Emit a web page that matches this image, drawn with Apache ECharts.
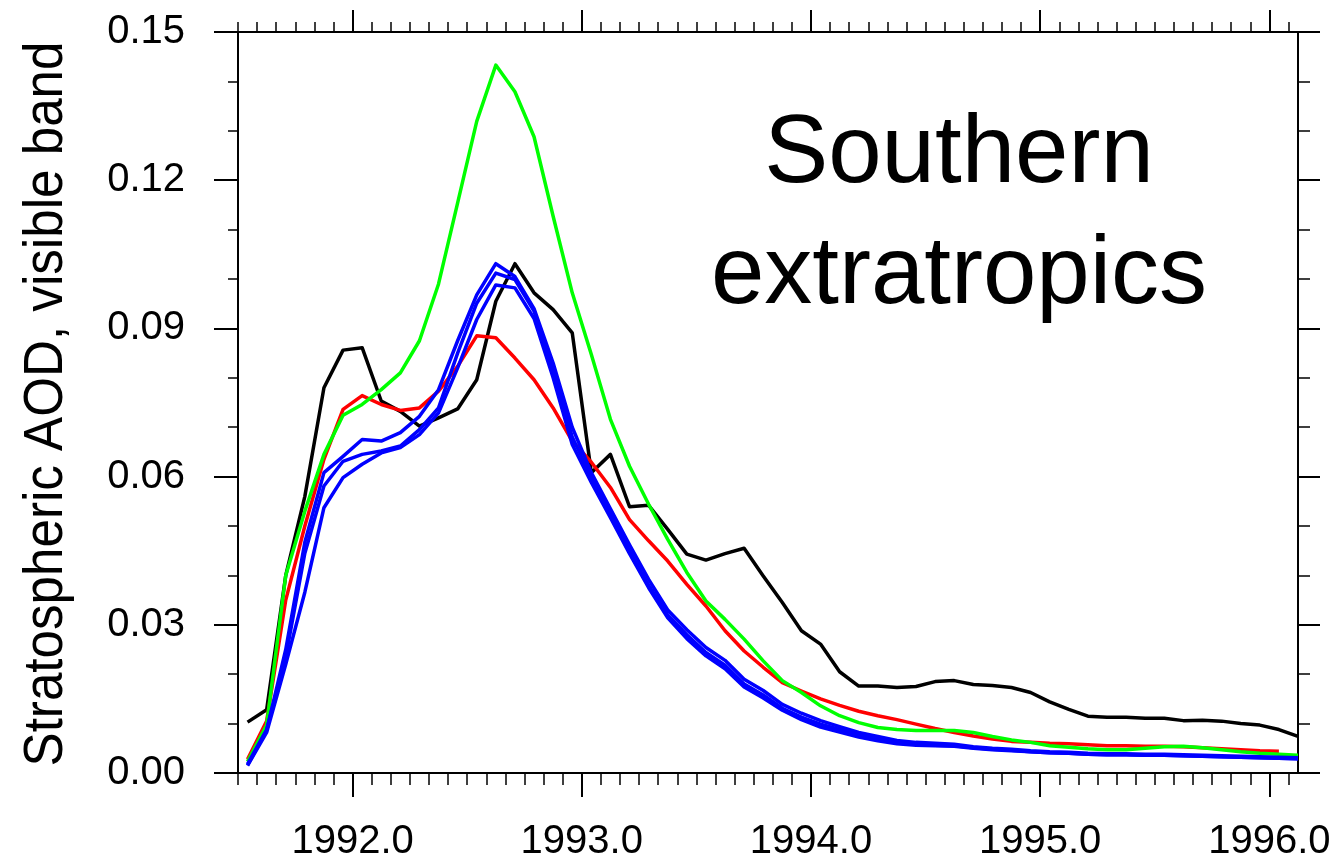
<!DOCTYPE html>
<html>
<head>
<meta charset="utf-8">
<title>Stratospheric AOD – Southern extratropics</title>
<script src="https://cdn.jsdelivr.net/npm/echarts@6/dist/echarts.min.js"></script>
<style>
  html, body { margin: 0; padding: 0; background: #ffffff; }
  #chart { width: 1335px; height: 862px; }
</style>
</head>
<body>
<div id="chart"></div>
<script>
// Monthly means, July 1991 onwards (first value = July 1991)
const firstYear = 1991;
const firstMonth = 7;

// Observations (black)
const obsAOD = [
  0.0103, 0.0128, 0.0400, 0.0560, 0.0780, 0.0856, 0.0861, 0.0753, 0.0732, 0.0702,
  0.0719, 0.0737, 0.0796, 0.0955, 0.1031, 0.0972, 0.0938, 0.0891, 0.0608, 0.0645,
  0.0539, 0.0542, 0.0493, 0.0443, 0.0431, 0.0444, 0.0455, 0.0399, 0.0345, 0.0288,
  0.0261, 0.0205, 0.0176, 0.0176, 0.0173, 0.0175, 0.0185, 0.0187, 0.0179, 0.0177,
  0.0173, 0.0163, 0.0144, 0.0129, 0.0115, 0.0113, 0.0113, 0.0111, 0.0111, 0.0106,
  0.0107, 0.0105, 0.0100, 0.0097, 0.0088, 0.0074
];

// Red run (ends January 1996)
const redAOD = [
  0.0028, 0.0105, 0.0350, 0.0500, 0.0635, 0.0736, 0.0764, 0.0746, 0.0734, 0.0739,
  0.0773, 0.0823, 0.0885, 0.0881, 0.0840, 0.0796, 0.0739, 0.0672, 0.0629, 0.0578,
  0.0513, 0.0470, 0.0429, 0.0382, 0.0338, 0.0288, 0.0247, 0.0214, 0.0183, 0.0166,
  0.0150, 0.0137, 0.0125, 0.0116, 0.0108, 0.0099, 0.0090, 0.0082, 0.0075, 0.0069,
  0.0064, 0.0062, 0.0060, 0.0059, 0.0057, 0.0055, 0.0055, 0.0054, 0.0054, 0.0053,
  0.0051, 0.0049, 0.0047, 0.0045, 0.0044
];

// Green run
const greenAOD = [
  0.0023, 0.0097, 0.0400, 0.0530, 0.0645, 0.0724, 0.0746, 0.0776, 0.0810, 0.0875,
  0.0990, 0.1154, 0.1319, 0.1433, 0.1379, 0.1288, 0.1127, 0.0972, 0.0847, 0.0716,
  0.0621, 0.0544, 0.0473, 0.0406, 0.0348, 0.0311, 0.0271, 0.0227, 0.0187, 0.0163,
  0.0136, 0.0116, 0.0102, 0.0092, 0.0088, 0.0086, 0.0086, 0.0086, 0.0082, 0.0074,
  0.0067, 0.0062, 0.0055, 0.0052, 0.0049, 0.0047, 0.0047, 0.0050, 0.0053, 0.0054,
  0.0051, 0.0047, 0.0043, 0.0040, 0.0038, 0.0036
];

// Blue ensemble members
const blueAOD1 = [
  0.0016, 0.0086, 0.0250, 0.0467, 0.0608, 0.0641, 0.0675, 0.0672, 0.0689, 0.0722,
  0.0776, 0.0875, 0.0968, 0.1031, 0.1005, 0.0940, 0.0830, 0.0700, 0.0608, 0.0535,
  0.0462, 0.0392, 0.0330, 0.0290, 0.0254, 0.0228, 0.0190, 0.0167, 0.0139, 0.0121,
  0.0106, 0.0094, 0.0082, 0.0074, 0.0066, 0.0062, 0.0060, 0.0058, 0.0053, 0.0050,
  0.0048, 0.0045, 0.0043, 0.0042, 0.0040, 0.0039, 0.0039, 0.0038, 0.0038, 0.0037,
  0.0036, 0.0035, 0.0034, 0.0033, 0.0032, 0.0031
];
const blueAOD2 = [
  0.0018, 0.0088, 0.0235, 0.0445, 0.0581, 0.0631, 0.0645, 0.0652, 0.0662, 0.0695,
  0.0739, 0.0850, 0.0951, 0.1012, 0.0999, 0.0935, 0.0815, 0.0680, 0.0598, 0.0525,
  0.0450, 0.0380, 0.0320, 0.0280, 0.0244, 0.0218, 0.0180, 0.0158, 0.0131, 0.0113,
  0.0099, 0.0088, 0.0077, 0.0069, 0.0062, 0.0058, 0.0056, 0.0055, 0.0051, 0.0048,
  0.0046, 0.0043, 0.0041, 0.0040, 0.0038, 0.0037, 0.0037, 0.0036, 0.0036, 0.0035,
  0.0034, 0.0033, 0.0032, 0.0031, 0.0030, 0.0029
];
const blueAOD3 = [
  0.0015, 0.0082, 0.0220, 0.0366, 0.0537, 0.0598, 0.0625, 0.0648, 0.0659, 0.0685,
  0.0729, 0.0820, 0.0918, 0.0988, 0.0982, 0.0920, 0.0800, 0.0665, 0.0588, 0.0517,
  0.0444, 0.0375, 0.0314, 0.0272, 0.0237, 0.0211, 0.0174, 0.0152, 0.0127, 0.0108,
  0.0093, 0.0083, 0.0073, 0.0065, 0.0059, 0.0056, 0.0055, 0.0054, 0.0050, 0.0047,
  0.0045, 0.0043, 0.0041, 0.0040, 0.0038, 0.0037, 0.0037, 0.0036, 0.0036, 0.0035,
  0.0034, 0.0033, 0.0032, 0.0031, 0.0030, 0.0029
];

// Axis ticks
const yearTicks = [1992, 1993, 1994, 1995, 1996];
const aodTicks = [0.00, 0.03, 0.06, 0.09, 0.12, 0.15];
const xMin = 1991.5, xMax = 1996.125;

// Decimal-year time of the middle of month i after the first month
function monthTime(i) {
  return firstYear + (firstMonth - 1 + i + 0.5) / 12;
}
function toPairs(values) {
  return values.map((v, i) => [monthTime(i), v]);
}

// Month-boundary minor ticks (excluding whole years)
const monthTicks = [];
for (let k = 0; xMin + k / 12 < xMax - 1e-9; k++) {
  const t = xMin + k / 12;
  if (Math.abs(t - Math.round(t)) > 1e-6) monthTicks.push(t);
}

const FONT = '"Liberation Sans", Arial, Helvetica, sans-serif';
const AXIS_COLOR = '#000000';

function xAxisDef(position, ticks, tickLen, tickWidth, showLine, showLabels) {
  return {
    type: 'value', position: position, min: xMin, max: xMax,
    axisLine: { show: showLine, onZero: false, lineStyle: { color: AXIS_COLOR, width: 2 } },
    axisTick: { show: true, inside: false, length: tickLen, customValues: ticks,
                lineStyle: { color: AXIS_COLOR, width: tickWidth } },
    axisLabel: showLabels ? {
      show: true, customValues: yearTicks, margin: 49,
      formatter: v => Number(v).toFixed(1),
      color: '#000', fontSize: 40, fontFamily: FONT
    } : { show: false },
    splitLine: { show: false }
  };
}

function yAxisDef(position, showLabels) {
  return {
    type: 'value', position: position, min: aodTicks[0], max: aodTicks[aodTicks.length - 1],
    interval: aodTicks[1] - aodTicks[0],
    axisLine: { show: true, onZero: false, lineStyle: { color: AXIS_COLOR, width: 2 } },
    axisTick: { show: true, inside: false, length: position === 'left' ? 24 : 22,
                lineStyle: { color: AXIS_COLOR, width: 2 } },
    minorTick: { show: true, splitNumber: 3, length: position === 'left' ? 10 : 12,
                 lineStyle: { color: AXIS_COLOR, width: 1.5 } },
    axisLabel: showLabels ? {
      show: true, margin: 53, formatter: v => Number(v).toFixed(2),
      color: '#000', fontSize: 40, fontFamily: FONT
    } : { show: false },
    splitLine: { show: false },
    minorSplitLine: { show: false }
  };
}

function lineSeries(name, values, color) {
  return {
    name: name, type: 'line', xAxisIndex: 0, yAxisIndex: 0,
    data: toPairs(values), showSymbol: false, symbol: 'none',
    lineStyle: { color: color, width: 3.5, join: 'round' },
    emphasis: { disabled: true }
  };
}

const chart = echarts.init(document.getElementById('chart'), null, { renderer: 'canvas' });
chart.setOption({
  animation: false,
  backgroundColor: '#ffffff',
  grid: { left: 238, right: 37, top: 32, bottom: 88, containLabel: false },
  xAxis: [
    xAxisDef('bottom', yearTicks, 24, 2, true, true),
    xAxisDef('bottom', monthTicks, 12, 1.5, false, false),
    xAxisDef('top', yearTicks, 22, 2, true, false),
    xAxisDef('top', monthTicks, 10, 1.5, false, false)
  ],
  yAxis: [
    yAxisDef('left', true),
    yAxisDef('right', false)
  ],
  series: [
    lineSeries('Observations', obsAOD, '#000000'),
    lineSeries('Red run', redAOD, '#ff0000'),
    lineSeries('Green run', greenAOD, '#00ff00'),
    lineSeries('Blue run 1', blueAOD1, '#0000ff'),
    lineSeries('Blue run 2', blueAOD2, '#0000ff'),
    lineSeries('Blue run 3', blueAOD3, '#0000ff')
  ],
  graphic: [
    {
      type: 'text', x: 47, y: 404, rotation: Math.PI / 2, scaleX: 0.93,
      style: {
        text: 'Stratospheric AOD, visible band',
        font: '55px ' + FONT, fill: '#000',
        align: 'center', verticalAlign: 'middle'
      }
    },
    {
      type: 'text', x: 959, y: 216,
      style: {
        text: 'Southern\nextratropics',
        font: '96px ' + FONT, fill: '#000', lineHeight: 121,
        align: 'center', verticalAlign: 'middle'
      }
    }
  ]
});
</script>
</body>
</html>
